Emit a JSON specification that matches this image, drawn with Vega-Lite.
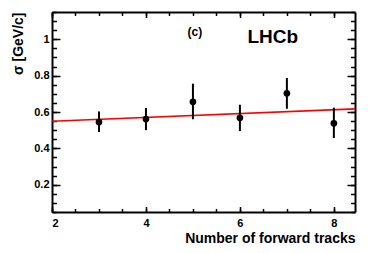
{
  "$schema": "https://vega.github.io/schema/vega-lite/v6.json",
  "autosize": {"type": "none"},
  "padding": {"left": 52, "top": 12, "right": 19, "bottom": 41},
  "width": 303,
  "height": 200,
  "background": "white",
  "config": {
    "view": {"stroke": null},
    "font": "Liberation Sans",
    "axis": {"grid": false, "domainColor": "black", "domainWidth": 2, "tickColor": "black", "tickWidth": 1.5, "labelFont": "Liberation Sans", "labelFontWeight": "bold", "labelFontSize": 11, "labelColor": "black", "titleFont": "Liberation Sans", "titleFontWeight": "bold", "titleColor": "black"}
  },
  "datasets": {
    "pts": [
      {"n": 3, "sigma": 0.545, "lo": 0.49, "hi": 0.603},
      {"n": 4, "sigma": 0.561, "lo": 0.50, "hi": 0.622},
      {"n": 5, "sigma": 0.656, "lo": 0.56, "hi": 0.756},
      {"n": 6, "sigma": 0.568, "lo": 0.495, "hi": 0.64},
      {"n": 7, "sigma": 0.703, "lo": 0.618, "hi": 0.787},
      {"n": 8, "sigma": 0.538, "lo": 0.457, "hi": 0.624}
    ],
    "fit": [
      {"n": 2, "sigma": 0.549},
      {"n": 8.45, "sigma": 0.617}
    ],
    "labels": [
      {"n": 5.04, "sigma": 1.04, "t": "(c)"},
      {"n": 6.7, "sigma": 1.015, "t": "LHCb"}
    ]
  },
  "layer": [
    {
      "data": {"name": "fit"},
      "mark": {"type": "line", "color": "#ff0000", "strokeWidth": 1.6, "clip": true},
      "encoding": {
        "x": {"field": "n", "type": "quantitative", "scale": {"domain": [2, 8.45], "nice": false, "zero": false},
          "axis": {"orient": "bottom", "values": [2, 4, 6, 8], "format": "~g", "tickSize": -5.5, "labelPadding": 11, "title": "Number of forward tracks", "titleFontSize": 14, "titleAnchor": "end", "titleAlign": "right", "titlePadding": 3}},
        "y": {"field": "sigma", "type": "quantitative", "scale": {"domain": [0.05, 1.15], "nice": false, "zero": false},
          "axis": {"orient": "left", "values": [0.2, 0.4, 0.6, 0.8, 1], "format": "~g", "tickSize": -8, "labelPadding": 11, "title": "σ [GeV/c]", "titleFontSize": 14, "titleAnchor": "end", "titlePadding": 8}}
      }
    },
    {
      "data": {"name": "pts"},
      "mark": {"type": "rule", "color": "black", "strokeWidth": 2},
      "encoding": {
        "x": {"field": "n", "type": "quantitative",
          "axis": {"orient": "bottom", "values": [2, 2.5, 3, 3.5, 4, 4.5, 5, 5.5, 6, 6.5, 7, 7.5, 8], "tickSize": -3.5, "labels": false, "domain": false, "title": null}},
        "y": {"field": "lo", "type": "quantitative",
          "axis": {"orient": "left", "values": [0.05, 0.1, 0.15, 0.2, 0.25, 0.3, 0.35, 0.4, 0.45, 0.5, 0.55, 0.6, 0.65, 0.7, 0.75, 0.8, 0.85, 0.9, 0.95, 1, 1.05, 1.1, 1.15], "tickSize": -4.5, "labels": false, "domain": false, "title": null}},
        "y2": {"field": "hi"}
      }
    },
    {
      "data": {"name": "pts"},
      "mark": {"type": "circle", "color": "black", "opacity": 1, "size": 45},
      "encoding": {
        "x": {"field": "n", "type": "quantitative",
          "axis": {"orient": "top", "values": [2, 4, 6, 8], "tickSize": -5.5, "labels": false, "title": null}},
        "y": {"field": "sigma", "type": "quantitative",
          "axis": {"orient": "right", "values": [0.2, 0.4, 0.6, 0.8, 1], "tickSize": -8, "labels": false, "title": null}}
      }
    },
    {
      "data": {"name": "labels"},
      "transform": [{"filter": "datum.t == '(c)'"}],
      "mark": {"type": "text", "font": "Liberation Sans", "fontWeight": "bold", "fontSize": 12, "color": "black", "baseline": "middle", "align": "center"},
      "encoding": {
        "x": {"field": "n", "type": "quantitative",
          "axis": {"orient": "top", "values": [2, 2.5, 3, 3.5, 4, 4.5, 5, 5.5, 6, 6.5, 7, 7.5, 8], "tickSize": -3.5, "labels": false, "domain": false, "title": null}},
        "y": {"field": "sigma", "type": "quantitative",
          "axis": {"orient": "right", "values": [0.05, 0.1, 0.15, 0.2, 0.25, 0.3, 0.35, 0.4, 0.45, 0.5, 0.55, 0.6, 0.65, 0.7, 0.75, 0.8, 0.85, 0.9, 0.95, 1, 1.05, 1.1, 1.15], "tickSize": -4.5, "labels": false, "domain": false, "title": null}},
        "text": {"field": "t"}
      }
    },
    {
      "data": {"name": "labels"},
      "transform": [{"filter": "datum.t == 'LHCb'"}],
      "mark": {"type": "text", "font": "Liberation Sans", "fontWeight": "bold", "fontSize": 19, "color": "black", "baseline": "middle", "align": "center"},
      "encoding": {
        "x": {"field": "n", "type": "quantitative", "axis": null},
        "y": {"field": "sigma", "type": "quantitative", "axis": null},
        "text": {"field": "t"}
      }
    }
  ],
  "resolve": {"axis": {"x": "independent", "y": "independent"}}
}
